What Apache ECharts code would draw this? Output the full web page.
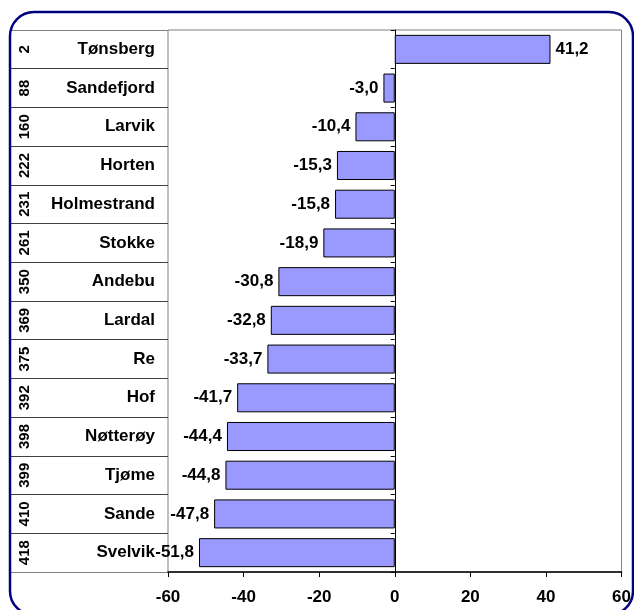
<!DOCTYPE html>
<html>
<head>
<meta charset="utf-8">
<script src="https://cdn.jsdelivr.net/npm/echarts@6/dist/echarts.min.js"></script>
<style>
html,body{margin:0;padding:0;background:#fff;}
#c{width:634px;height:610px;}
</style>
</head>
<body>
<div id="c"></div>
<script>
var names = ['Tønsberg','Sandefjord','Larvik','Horten','Holmestrand','Stokke','Andebu','Lardal','Re','Hof','Nøtterøy','Tjøme','Sande','Svelvik'];
var ranks = ['2','88','160','222','231','261','350','369','375','392','398','399','410','418'];
var values = [41.2,-3.0,-10.4,-15.3,-15.8,-18.9,-30.8,-32.8,-33.7,-41.7,-44.4,-44.8,-47.8,-51.8];
var xMin = -60, xMax = 60, xStep = 20;

var FONT = 'Arial, "Liberation Sans", sans-serif';
var chart = echarts.init(document.getElementById('c'), null, {renderer:'canvas'});

var barData = values.map(function(v){
  return {value: v, label: {position: v >= 0 ? 'right' : 'left'}};
});

// row separator colours: outer lines grey, inner lines dark
var sepColors = names.map(function(n, i){ return i === 0 ? '#808080' : '#404040'; });

chart.setOption({
  backgroundColor: '#fff',
  animation: false,
  graphic: [{
    type: 'rect',
    z: 100,
    shape: {x: 10, y: 12, width: 623, height: 603, r: 24},
    style: {fill: 'none', stroke: '#000080', lineWidth: 2.5}
  }],
  grid: [
    {left: 168, right: 12, top: 30, bottom: 38, show: true, borderColor: '#808080', borderWidth: 1, backgroundColor: 'transparent'},
    {left: 10, width: 158, top: 30, bottom: 38, show: false}
  ],
  xAxis: [
    {type: 'value', gridIndex: 0, min: xMin, max: xMax, interval: xStep,
     splitLine: {show: false},
     axisLine: {show: true, onZero: false, lineStyle: {color: '#000', width: 1.5}},
     axisTick: {show: true, length: 5, lineStyle: {color: '#000'}},
     axisLabel: {color: '#000', fontWeight: 'bold', fontSize: 17, fontFamily: FONT, margin: 17}},
    {type: 'value', gridIndex: 1, min: 0, max: 1, show: false}
  ],
  yAxis: [
    {type: 'category', gridIndex: 0, data: names, inverse: true,
     axisLine: {show: true, onZero: true, lineStyle: {color: '#000', width: 1}},
     axisTick: {show: true, length: 4, lineStyle: {color: '#000'}},
     axisLabel: {show: false}, splitLine: {show: false}},
    {type: 'category', gridIndex: 1, data: names, inverse: true, position: 'right',
     axisLine: {show: false}, axisTick: {show: false},
     axisLabel: {inside: true, margin: 13, color: '#000', fontWeight: 'bold', fontSize: 17, fontFamily: FONT},
     splitLine: {show: true, lineStyle: {color: sepColors, width: 1}}},
    {type: 'category', gridIndex: 1, data: ranks, inverse: true, position: 'left',
     axisLine: {show: false}, axisTick: {show: false},
     axisLabel: {inside: true, rotate: 90, margin: 7, color: '#000', fontWeight: 'bold', fontSize: 15, fontFamily: FONT},
     splitLine: {show: false}}
  ],
  series: [{
    type: 'bar',
    xAxisIndex: 0, yAxisIndex: 0,
    data: barData,
    barCategoryGap: '25%',
    itemStyle: {color: '#9999FF', borderColor: '#000', borderWidth: 1},
    label: {show: true, distance: 5, color: '#000', fontWeight: 'bold', fontSize: 17, fontFamily: FONT,
      formatter: function(p){ return p.value.toFixed(1).replace('.', ','); }}
  }]
});
</script>
</body>
</html>
